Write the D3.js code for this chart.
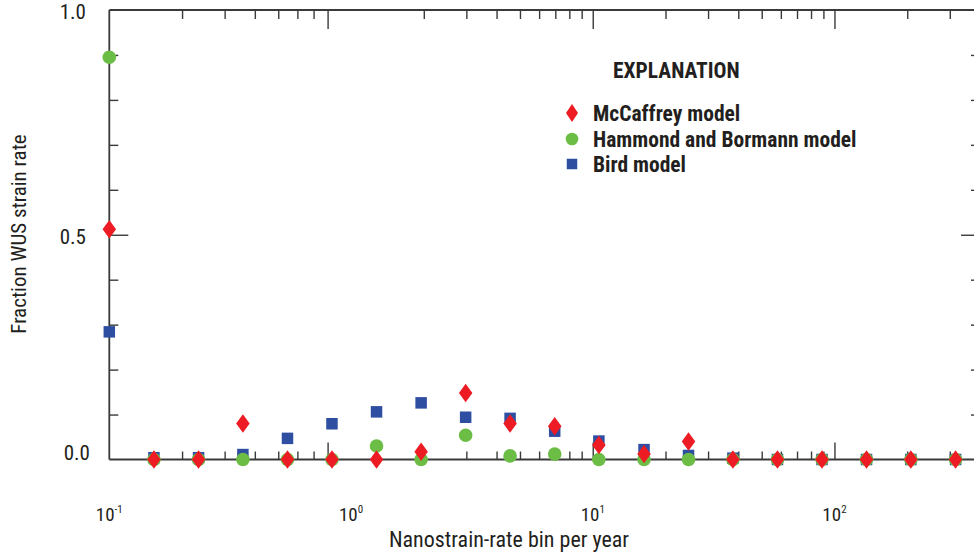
<!DOCTYPE html>
<html>
<head>
<meta charset="utf-8">
<script src="https://cdn.jsdelivr.net/npm/d3@7/dist/d3.min.js"></script>
<style>
  html, body { margin: 0; padding: 0; background: #fff; }
  svg { display: block; }
  text { font-family: "Liberation Sans Narrow", "Arial Narrow", "Roboto Condensed", "Liberation Sans", sans-serif; fill: #231f20; }
</style>
</head>
<body>
<svg id="chart" width="974" height="552"></svg>
<script>
// Nanostrain-rate bins (per year), log spaced
const bins = [0.1, 0.153, 0.234, 0.357, 0.546, 0.834, 1.275, 1.95, 2.98, 4.55,
              6.96, 10.6, 16.3, 24.9, 38.0, 58.1, 88.8, 135.7, 207, 317];

// Fraction of western US strain rate falling in each bin
const mccaffrey = [0.512, 0, 0, 0.080, 0, 0, 0, 0.017, 0.148, 0.080,
                   0.074, 0.032, 0.012, 0.040, 0, 0, 0, 0, 0, 0];
const hammond   = [0.895, 0, 0, 0, 0, 0, 0.030, 0, 0.054, 0.008,
                   0.012, 0, 0, 0, 0, 0, 0, 0, 0, 0];
const bird      = [0.284, 0.004, 0.004, 0.011, 0.047, 0.0795, 0.106, 0.126, 0.094, 0.0915,
                   0.063, 0.041, 0.022, 0.009, 0.003, 0, 0, 0, 0, 0];

const seriesNames = ["McCaffrey model", "Hammond and Bormann model", "Bird model"];

// Axis ticks
const xMinorTicks = [0.2, 0.3, 0.4, 0.5, 0.6, 0.7,
                     2, 3, 4, 5, 6, 7, 8, 9,
                     20, 30, 40, 50, 60, 70, 80, 90, 200, 300];
const xMajorTicks = [0.8, 10, 100];
const xLabelValues = [0.1, 1, 10, 100];
const xLabelExps = ["-1", "0", "1", "2"];
const yMinorTicks = [0.1, 0.2, 0.3, 0.4, 0.6, 0.7, 0.8, 0.9];
const yMajorTicks = [0.5];
const yLabelValues = [0, 0.5, 1];
const yLabels = ["0.0", "0.5", "1.0"];

const svg = d3.select("#chart");
const plotLeft = 109.3, plotRight = 980, plotTop = 10, plotBottom = 459.5;

const x = d3.scaleLog().domain([0.1, 400]).range([plotLeft, plotRight]);
const y = d3.scaleLinear().domain([0, 1]).range([plotBottom, plotTop]);

const axisColor = "#3a3a3a";

function styleAxis(g) {
  g.select(".domain").remove();
  g.selectAll(".tick line").attr("stroke", axisColor).attr("stroke-width", 1.4);
  g.selectAll(".tick text").remove();
}

// Frame
svg.append("g")
  .attr("fill", "none")
  .attr("stroke", axisColor)
  .attr("stroke-width", 1.8)
  .call(g => {
    g.append("line").attr("x1", plotLeft).attr("x2", plotRight).attr("y1", plotBottom).attr("y2", plotBottom);
    g.append("line").attr("x1", plotLeft).attr("x2", plotRight).attr("y1", plotTop).attr("y2", plotTop);
    g.append("line").attr("x1", plotLeft).attr("x2", plotLeft).attr("y1", plotTop).attr("y2", plotBottom);
    g.append("line").attr("x1", plotRight).attr("x2", plotRight).attr("y1", plotTop).attr("y2", plotBottom);
  });

// Inward ticks on all four sides
svg.append("g").attr("transform", `translate(0,${plotBottom})`)
  .call(d3.axisTop(x).tickValues(xMinorTicks).tickSize(8)).call(styleAxis);
svg.append("g").attr("transform", `translate(0,${plotBottom})`)
  .call(d3.axisTop(x).tickValues(xMajorTicks).tickSize(17)).call(styleAxis);
svg.append("g").attr("transform", `translate(0,${plotTop})`)
  .call(d3.axisBottom(x).tickValues(xMinorTicks).tickSize(9)).call(styleAxis);
svg.append("g").attr("transform", `translate(0,${plotTop})`)
  .call(d3.axisBottom(x).tickValues(xMajorTicks).tickSize(19)).call(styleAxis);
svg.append("g").attr("transform", `translate(${plotLeft},0)`)
  .call(d3.axisRight(y).tickValues(yMinorTicks).tickSize(9)).call(styleAxis);
svg.append("g").attr("transform", `translate(${plotLeft},0)`)
  .call(d3.axisRight(y).tickValues(yMajorTicks).tickSize(19)).call(styleAxis);
svg.append("g").attr("transform", `translate(${plotRight},0)`)
  .call(d3.axisLeft(y).tickValues(yMinorTicks).tickSize(9)).call(styleAxis);
svg.append("g").attr("transform", `translate(${plotRight},0)`)
  .call(d3.axisLeft(y).tickValues(yMajorTicks).tickSize(19)).call(styleAxis);

// Y tick labels
svg.append("g").selectAll("text")
  .data(yLabelValues)
  .join("text")
  .attr("x", (d, i) => i === 0 ? 90 : 86)
  .attr("y", d => d === 0 ? y(d) : y(d) + 9)
  .attr("text-anchor", "end")
  .attr("font-size", 21)
  .text((d, i) => yLabels[i]);

// X tick labels (powers of ten)
const xl = svg.append("g").selectAll("text")
  .data(xLabelValues)
  .join("text")
  .attr("x", d => x(d))
  .attr("y", 521)
  .attr("text-anchor", "middle")
  .attr("font-size", 19);
xl.append("tspan").text("10");
xl.append("tspan").attr("dy", -8).attr("font-size", 11).text((d, i) => xLabelExps[i]);

// Axis titles
svg.append("text")
  .attr("x", 509).attr("y", 547)
  .attr("text-anchor", "middle")
  .attr("font-size", 22)
  .text("Nanostrain-rate bin per year");

svg.append("text")
  .attr("transform", "translate(26,234) rotate(-90)")
  .attr("text-anchor", "middle")
  .attr("font-size", 21)
  .text("Fraction WUS strain rate");

// Marker shapes
const red = "#ed1c24", green = "#6bbd45", blue = "#2e4ea1";
const diamond = (w, h) => `M0,${-h / 2}L${w / 2},0L0,${h / 2}L${-w / 2},0Z`;
const square = s => `M${-s / 2},${-s / 2}h${s}v${s}h${-s}Z`;

const marks = svg.append("g");
marks.append("g").selectAll("path")
  .data(bins.map((b, i) => [b, bird[i]]))
  .join("path")
  .attr("d", square(11.5))
  .attr("fill", blue)
  .attr("transform", d => `translate(${x(d[0])},${y(d[1])})`);
marks.append("g").selectAll("circle")
  .data(bins.map((b, i) => [b, hammond[i]]))
  .join("circle")
  .attr("r", 6.8)
  .attr("fill", green)
  .attr("cx", d => x(d[0]))
  .attr("cy", d => y(d[1]));
marks.append("g").selectAll("path")
  .data(bins.map((b, i) => [b, mccaffrey[i]]))
  .join("path")
  .attr("d", diamond(13.5, 18.5))
  .attr("fill", red)
  .attr("transform", d => `translate(${x(d[0])},${y(d[1])})`);

// Legend
const legend = svg.append("g").attr("transform", "translate(572,0)");
legend.append("text")
  .attr("x", 41).attr("y", 78)
  .attr("font-size", 21.5).attr("font-weight", "bold")
  .text("EXPLANATION");
const rows = [113, 139, 164];
legend.append("path").attr("d", diamond(12, 18)).attr("fill", red)
  .attr("transform", `translate(0,${rows[0]})`);
legend.append("circle").attr("r", 6.3).attr("fill", green).attr("cy", rows[1]);
legend.append("path").attr("d", square(10.5)).attr("fill", blue)
  .attr("transform", `translate(0,${rows[2]})`);
legend.selectAll("text.item")
  .data(seriesNames)
  .join("text")
  .attr("class", "item")
  .attr("x", 21)
  .attr("y", (d, i) => rows[i] + 8)
  .attr("font-size", 21.5).attr("font-weight", "bold")
  .text(d => d);
</script>
</body>
</html>
